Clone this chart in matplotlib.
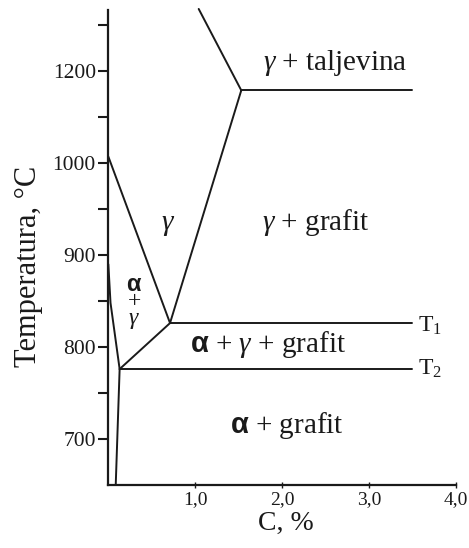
import numpy as np
import matplotlib
matplotlib.use("Agg")
import matplotlib.pyplot as plt

# phase boundaries: (C %, T degC)
liquidus_c = [1.04, 1.53]
liquidus_t = [1335, 1158]
eutectic_c = [1.53, 3.50]
eutectic_t = [1158, 1158]
gamma_right_c = [1.53, 0.71]
gamma_right_t = [1158, 826]
gamma_left_c = [0.0, 0.71]
gamma_left_t = [1014, 826]
t1_c = [0.71, 3.50]
t1_t = [826, 826]
alpha_gamma_c = [0.71, 0.13]
alpha_gamma_t = [826, 776]
t2_c = [0.13, 3.50]
t2_t = [776, 776]
alpha_top_c = [0.0, 0.025, 0.13]
alpha_top_t = [890, 848, 776]
alpha_bot_c = [0.13, 0.085]
alpha_bot_t = [776, 650]

x_ticks = [1, 2, 3, 4]
x_labels = ["1,0", "2,0", "3,0", "4,0"]
y_major = [700, 800, 900, 1000, 1200]
y_minor = [750, 850, 950, 1100, 1300]

# region names: text, C, T (left / baseline)
region_labels = [
    (r"$\gamma$ + taljevina", 1.78, 1202),
    (r"$\gamma$ + grafit", 1.77, 927),
    (r"$\mathbf{\alpha}$ + $\gamma$ + grafit", 0.94, 795),
    (r"$\mathbf{\alpha}$ + grafit", 1.40, 706),
]

plt.rcParams["font.family"] = ["Liberation Serif", "DejaVu Sans"]
plt.rcParams["mathtext.fontset"] = "custom"
plt.rcParams["mathtext.rm"] = "Liberation Serif"
plt.rcParams["mathtext.it"] = "Liberation Serif:italic"
plt.rcParams["mathtext.bf"] = "Liberation Sans:bold"

ink = "#1a1a1a"


# temperature axis is compressed above 1000 degC (100 per step instead of 50)
def fwd(t):
    t = np.asarray(t, dtype=float)
    return np.where(t < 1000, t, 1000 + (t - 1000) / 2)


def inv(u):
    u = np.asarray(u, dtype=float)
    return np.where(u < 1000, u, 1000 + (u - 1000) * 2)


fig = plt.figure(figsize=(4.69, 5.48), dpi=100)
ax = fig.add_axes([0.231, 0.115, 0.741, 0.867])
ax.set_yscale("function", functions=(fwd, inv))
ax.set_xlim(0, 4.0)
ax.set_ylim(650, 1333)

lw = 1.4
for cs, ts in [(liquidus_c, liquidus_t), (eutectic_c, eutectic_t),
               (gamma_right_c, gamma_right_t), (gamma_left_c, gamma_left_t),
               (t1_c, t1_t), (alpha_gamma_c, alpha_gamma_t), (t2_c, t2_t),
               (alpha_top_c, alpha_top_t), (alpha_bot_c, alpha_bot_t)]:
    ax.plot(cs, ts, color=ink, lw=lw, clip_on=False, solid_capstyle="round")

for txt, c, t in region_labels:
    ax.text(c, t, txt, fontsize=21, color=ink, ha="left", va="baseline")

ax.text(0.69, 927, r"$\gamma$", fontsize=21, color=ink, ha="center", va="baseline")
# stacked alpha + gamma in the narrow field
ax.text(0.30, 848, "$\\mathbf{\\alpha}$\n+\n$\\gamma$", fontsize=17, color=ink,
        ha="center", va="center", multialignment="center", linespacing=0.72)

ax.text(3.56, 817, r"T$_1$", fontsize=17, color=ink, ha="left", va="baseline")
ax.text(3.56, 770, r"T$_2$", fontsize=17, color=ink, ha="left", va="baseline")

ax.spines["top"].set_visible(False)
ax.spines["right"].set_visible(False)
ax.spines["left"].set_linewidth(1.6)
ax.spines["bottom"].set_linewidth(1.6)
ax.spines["left"].set_color(ink)
ax.spines["bottom"].set_color(ink)

ax.set_xticks(x_ticks)
ax.set_xticklabels(x_labels)
ax.set_yticks(y_major)
ax.set_yticklabels([str(v) for v in y_major])
ax.set_yticks(y_minor, minor=True)
ax.tick_params(axis="x", direction="inout", length=5, width=1, pad=2,
               labelsize=14, colors=ink)
ax.tick_params(axis="y", which="both", direction="out", length=7, width=1.5,
               pad=2, labelsize=15.5, colors=ink)

ax.set_xlabel("C, %", fontsize=20, color=ink)
ax.xaxis.set_label_coords(0.511, -0.080)
ax.xaxis.label.set_va("center")
ax.set_ylabel("Temperatura, °C", fontsize=22, color=ink)
ax.yaxis.set_label_coords(-0.231, 0.461)
ax.yaxis.label.set_va("center")

fig.savefig("out.png", dpi=100)
